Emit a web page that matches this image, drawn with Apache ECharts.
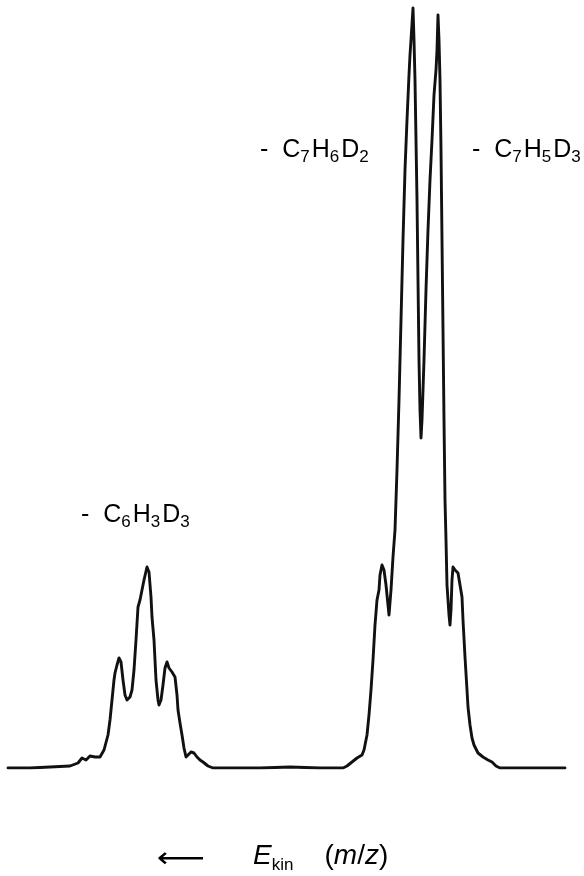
<!DOCTYPE html>
<html>
<head>
<meta charset="utf-8">
<script src="https://cdn.jsdelivr.net/npm/echarts@6/dist/echarts.min.js"></script>
<style>
  html, body { margin: 0; padding: 0; background: #fff; }
  #chart { width: 584px; height: 876px; }
</style>
</head>
<body>
<div id="chart"></div>
<script>
// scan position (arbitrary channel) and ion intensity (arbitrary units)
const channels = [
  8, 30, 50, 70, 78, 82, 86, 90, 95, 100, 104, 108, 110, 112, 114, 115, 117, 119, 121, 123,
  125, 127, 130, 132, 134, 136, 138, 140, 142, 144, 147, 149, 151, 152, 154, 156, 158, 159, 161, 163,
  165, 167, 169, 172, 175, 177, 178, 180, 182, 184, 186, 188, 191, 194, 197, 200, 203, 208, 213, 230,
  260, 290, 320, 343, 347, 352, 357, 362, 364, 367, 369, 371, 373, 375, 377, 379, 380, 382, 384, 386,
  388, 389, 391, 393, 395, 397, 399, 401, 403, 405, 407, 409, 410, 411, 413, 414, 415, 416, 417, 418,
  419, 420, 421, 422, 424, 426, 428, 430, 432, 434, 436, 437, 438, 439, 440, 441, 442, 443, 444, 445,
  446, 447, 449, 450, 451, 452, 453, 455, 458, 460, 462, 463, 465, 467, 468, 470, 472, 474, 478, 483,
  488, 492, 496, 500, 505, 520, 540, 565
];
const intensity = [
  0, 0, 1, 2, 5, 10, 8, 12, 11, 11, 18, 33, 48, 68, 88, 95, 103, 110, 106, 88,
  73, 68, 71, 78, 98, 128, 161, 168, 178, 188, 201, 196, 171, 151, 128, 88, 68, 63, 68, 83,
  100, 106, 100, 96, 91, 73, 58, 45, 33, 20, 11, 12, 16, 15, 11, 8, 6, 2, 0, 0,
  0, 1, 0, 0, 2, 6, 10, 13, 18, 33, 53, 78, 108, 143, 168, 178, 193, 203, 198, 183,
  163, 153, 178, 211, 238, 298, 368, 448, 528, 598, 648, 693, 713, 728, 760, 728, 688, 628, 568, 488,
  408, 358, 330, 348, 408, 478, 538, 588, 628, 673, 698, 718, 753, 728, 688, 618, 528, 438, 348, 268,
  228, 183, 153, 143, 158, 188, 201, 198, 195, 183, 171, 148, 111, 78, 61, 43, 30, 23, 15, 11,
  8, 6, 2, 0, 0, 0, 0, 0
];
const peakLabels = [
  { pos: [81, 503], parts: [["C", "6"], ["H", "3"], ["D", "3"]] },
  { pos: [260, 138], parts: [["C", "7"], ["H", "6"], ["D", "2"]] },
  { pos: [472, 138], parts: [["C", "7"], ["H", "5"], ["D", "3"]] }
];

const chart = echarts.init(document.getElementById("chart"));

const font = "Liberation Sans";
const richStyles = {
  n: { fontSize: 25, lineHeight: 28, verticalAlign: "top", fontFamily: font, color: "#000" },
  s: { fontSize: 17, lineHeight: 12, verticalAlign: "bottom", fontFamily: font, color: "#000", padding: [0, 2, 0, 0] }
};

function formula(parts) {
  return "{n|-  }" + parts.map((p) => "{n|" + p[0] + "}{s|" + p[1] + "}").join("");
}

const labelGraphics = peakLabels.map((lab) => ({
  type: "text",
  left: lab.pos[0],
  top: lab.pos[1],
  style: { text: formula(lab.parts), rich: richStyles }
}));

chart.setOption({
  animation: false,
  backgroundColor: "#fff",
  grid: { left: 0, right: 0, top: 0, bottom: 108 },
  xAxis: { type: "value", min: 0, max: 584, show: false },
  yAxis: { type: "value", min: 0, max: 768, show: false },
  series: [
    {
      type: "line",
      data: channels.map((c, i) => [c, intensity[i]]),
      showSymbol: false,
      lineStyle: { color: "#111", width: 2.9, join: "round", cap: "round" }
    }
  ],
  graphic: labelGraphics.concat([
    {
      type: "text",
      x: 157,
      y: 846,
      scaleX: 1.2,
      style: { text: "⟵", fontSize: 28, fontFamily: "DejaVu Sans", fill: "#000" }
    },
    {
      type: "text",
      left: 253,
      top: 842,
      style: {
        text: "{e|E}{k|kin}{n|    (}{i|m}{n|/}{i|z}{n|)}",
        rich: {
          e: { fontSize: 28, fontStyle: "italic", lineHeight: 32, verticalAlign: "top", fontFamily: font, color: "#000" },
          k: { fontSize: 17, lineHeight: 14, verticalAlign: "bottom", fontFamily: font, color: "#000" },
          n: { fontSize: 28, lineHeight: 32, verticalAlign: "top", fontFamily: font, color: "#000" },
          i: { fontSize: 28, fontStyle: "italic", lineHeight: 32, verticalAlign: "top", fontFamily: font, color: "#000" }
        }
      }
    }
  ])
});
</script>
</body>
</html>
